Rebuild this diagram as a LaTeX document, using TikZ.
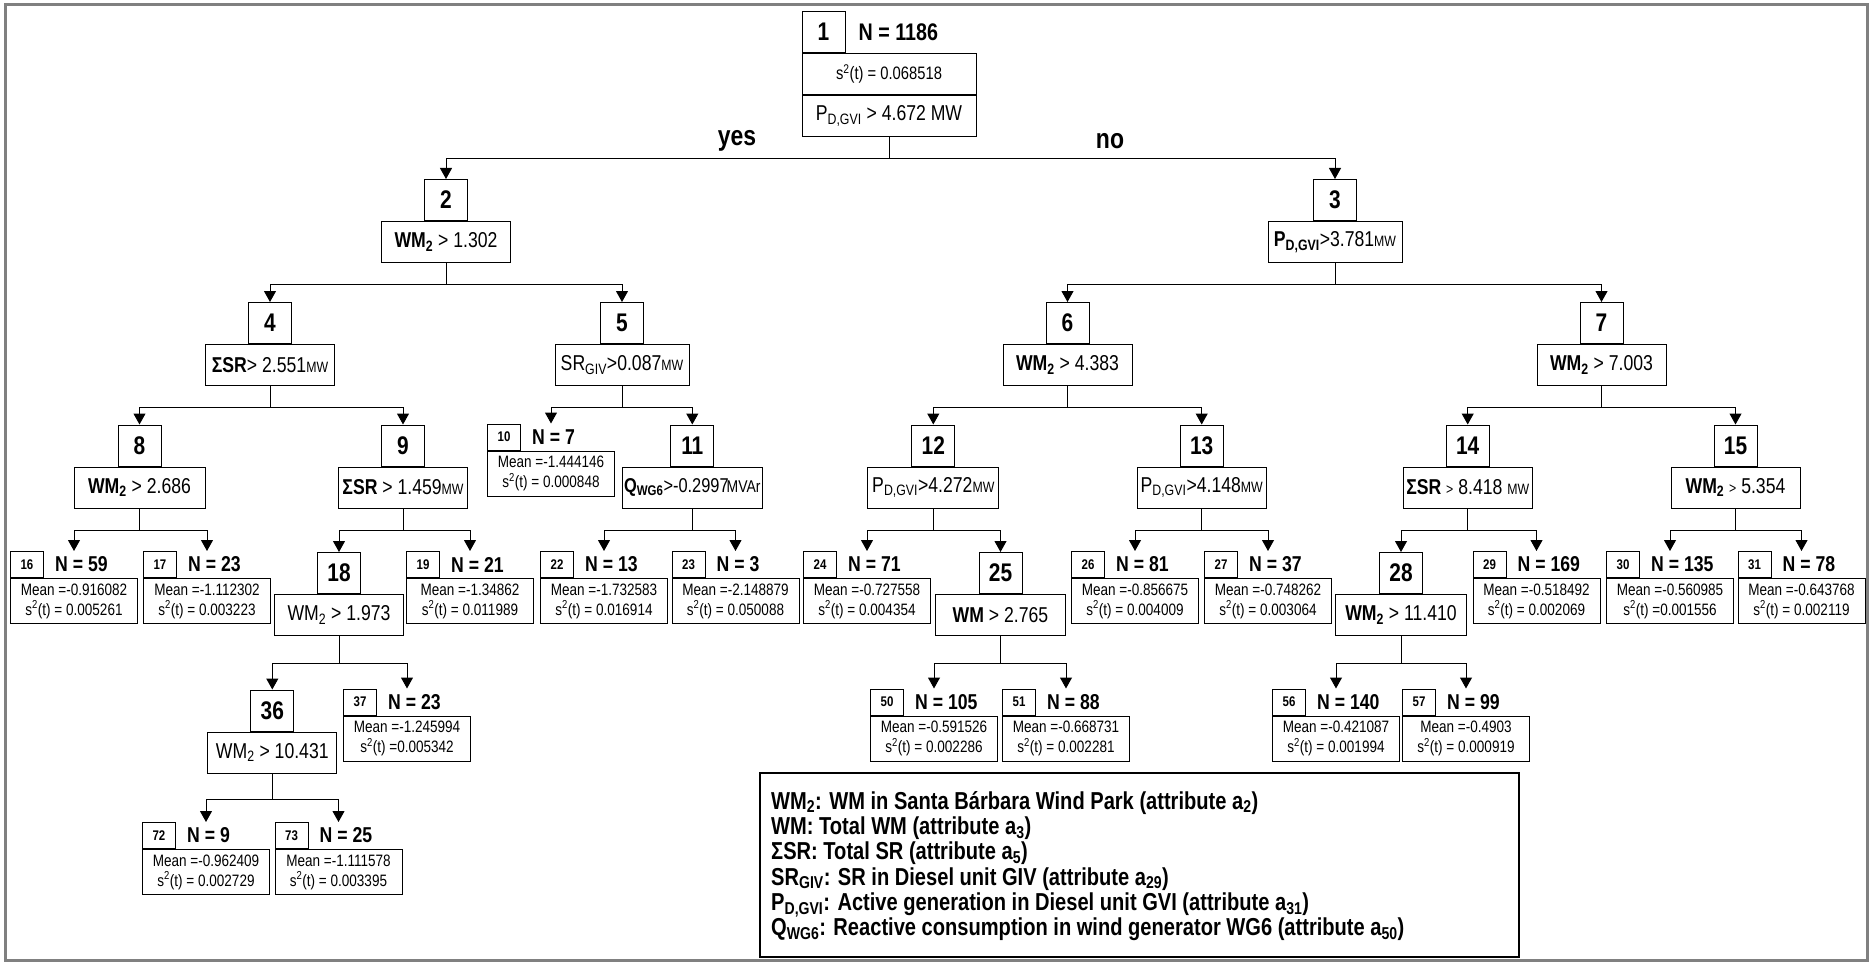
\documentclass[tikz,border=0pt]{standalone}
\usepackage{fontspec}
\setmainfont{Liberation Sans}[FakeStretch=0.82]
\usetikzlibrary{arrows.meta,positioning}
\definecolor{framegray}{HTML}{808080}
\definecolor{ink}      {HTML}{000000}
\tikzset{
  numbox/.style   ={draw=ink, line width=1pt, minimum width=43pt, minimum height=41pt,
                    inner sep=0pt, anchor=north, font=\fontsize{25.5}{27}\selectfont\bfseries},
  condbox/.style  ={draw=ink, line width=1pt, minimum width=129pt, minimum height=41pt,
                    inner sep=2pt, font=\fontsize{21.5}{23}\selectfont},
  leafnum/.style  ={draw=ink, line width=1pt, minimum width=33pt, minimum height=26pt,
                    inner sep=0pt, font=\fontsize{14}{15}\selectfont\bfseries},
  leafinfo/.style ={draw=ink, line width=1pt, minimum width=127pt, minimum height=45pt,
                    inner sep=0pt, anchor=north, align=center,
                    font=\fontsize{16.5}{20}\selectfont},
  leafcount/.style={inner sep=0pt, font=\fontsize{21.5}{23}\selectfont\bfseries},
  answer/.style   ={inner sep=0pt, font=\fontsize{28}{30}\selectfont\bfseries},
  legendbox/.style={draw=ink, line width=1.5pt, anchor=north west, inner sep=0pt},
  legendtext/.style={inner sep=0pt, anchor=west, align=left,
                    font=\fontsize{24.5}{25.3}\selectfont\bfseries},
  treearr/.style  ={-{Triangle[length=11pt,width=12pt]}, line width=1pt},
}
% split node: number box with the test underneath
\newcommand{\splitnode}[5][129pt]{%
  \node[numbox] (n#2) at (#3,#4) {#2};
  \node[condbox, minimum width=#1, below=0pt of n#2] (c#2) {#5};
  \coordinate (top#2) at (n#2.north);}
% terminal node: number, count and the mean / variance box
\newcommand{\leafnode}[6]{%
  \node[leafinfo] (i#1) at (#2,#3+26) {Mean =#5\\s\textsuperscript{2}(t) #6};
  \node[leafnum, above right=0pt of i#1.north west] (n#1) {#1};
  \node[leafcount, right=11pt of n#1] (t#1) {N = #4};
  \coordinate (top#1) at (i#1.north |- n#1.north);}
\newcommand{\smallunit}[1]{{\fontsize{15}{16}\selectfont #1}}
\newcommand{\WMtwo}{\textbf{WM}\textsubscript{\textbf{2}}}
\newcommand{\sumSR}{\textbf{ΣSR}}

\begin{document}
\begin{tikzpicture}[x=1pt,y=-1pt]
  \useasboundingbox (0,0) rectangle (1872,963);
  \draw[framegray, line width=3pt] (5,5) rectangle (1867,960);

  % root
  \node[numbox] (n1) at (823.5,11) {1};
  \node[leafcount, font=\fontsize{24}{26}\selectfont\bfseries, right=13pt of n1] (t1) {N = 1186};
  \node[condbox, minimum width=174pt, anchor=north west, font=\fontsize{18}{20}\selectfont]
    (s1) at (n1.south west) {s\textsuperscript{2}(t) = 0.068518};
  \node[condbox, minimum width=174pt, below=0pt of s1] (c1) {P\textsubscript{D,GVI} > 4.672 MW};
  \node[answer] (yes) at (737,141) {yes};
  \node[answer] (no) at (1110,141) {no};

  % split nodes
  \splitnode{2}{446}{179}{\WMtwo{} > 1.302}
  \splitnode[134pt]{3}{1335}{179}{\textbf{P}\textsubscript{\textbf{D,GVI}}>3.781\smallunit{MW}}
  \splitnode{4}{270}{302}{\sumSR> 2.551\smallunit{MW}}
  \splitnode[134pt]{5}{622}{302}{SR\textsubscript{GIV}>0.087\smallunit{MW}}
  \splitnode{6}{1067.5}{302}{\WMtwo{} > 4.383}
  \splitnode{7}{1601.5}{302}{\WMtwo{} > 7.003}
  \splitnode[131pt]{8}{139.5}{424.5}{\WMtwo{} > 2.686}
  \splitnode{9}{403}{424.5}{\sumSR{} > 1.459\smallunit{MW}}
  \splitnode[134pt]{11}{692.3}{424.5}{{\fontsize{20}{22}\selectfont
    \textbf{Q}\textsubscript{\textbf{WG6}}>-0.2997\kern-2pt{\fontsize{17}{18}\selectfont MVAr}}}
  \splitnode[131pt]{12}{933.3}{424.5}{P\textsubscript{D,GVI}>4.272\smallunit{MW}}
  \splitnode{13}{1201.7}{424.5}{P\textsubscript{D,GVI}>4.148\smallunit{MW}}
  \splitnode{14}{1467.7}{424.5}{\sumSR{} \smallunit{>} 8.418 \smallunit{MW}}
  \splitnode{15}{1735.5}{424.5}{\WMtwo{} \smallunit{>} 5.354}
  \splitnode{18}{339}{552}{WM\textsubscript{2} > 1.973}
  \splitnode[130pt]{25}{1000.5}{552}{\textbf{WM} > 2.765}
  \splitnode[131pt]{28}{1401}{552}{\WMtwo{} > 11.410}
  \splitnode{36}{272.3}{689.5}{WM\textsubscript{2} > 10.431}

  % terminal nodes
  \leafnode{10}{551}{424.5}{7}{-1.444146}{= 0.000848}
  \leafnode{16}{74}{552}{59}{-0.916082}{= 0.005261}
  \leafnode{17}{207}{552}{23}{-1.112302}{= 0.003223}
  \leafnode{19}{470}{552}{21}{-1.34862}{= 0.011989}
  \leafnode{22}{604}{552}{13}{-1.732583}{= 0.016914}
  \leafnode{23}{735.5}{552}{3}{-2.148879}{= 0.050088}
  \leafnode{24}{867}{552}{71}{-0.727558}{= 0.004354}
  \leafnode{26}{1135}{552}{81}{-0.856675}{= 0.004009}
  \leafnode{27}{1268}{552}{37}{-0.748262}{= 0.003064}
  \leafnode{29}{1536.5}{552}{169}{-0.518492}{= 0.002069}
  \leafnode{30}{1670}{552}{135}{-0.560985}{=0.001556}
  \leafnode{31}{1801.5}{552}{78}{-0.643768}{= 0.002119}
  \leafnode{37}{407}{689.5}{23}{-1.245994}{=0.005342}
  \leafnode{50}{934}{689.5}{105}{-0.591526}{= 0.002286}
  \leafnode{51}{1066}{689.5}{88}{-0.668731}{= 0.002281}
  \leafnode{56}{1336}{689.5}{140}{-0.421087}{= 0.001994}
  \leafnode{57}{1466}{689.5}{99}{-0.4903}{= 0.000919}
  \leafnode{72}{206}{823}{9}{-0.962409}{= 0.002729}
  \leafnode{73}{338.5}{823}{25}{-1.111578}{= 0.003395}

  % branches: parent / drop to the bar / left child / right child
  \foreach \p/\d/\a/\b in {1/22/2/3, 2/21/4/5, 3/21/6/7, 4/21/8/9, 5/21/10/11,
      6/21/12/13, 7/21/14/15, 8/22/16/17, 9/22/18/19, 11/22/22/23, 12/22/24/25,
      13/22/26/27, 14/22/28/29, 15/22/30/31, 18/27/36/37, 25/27/50/51,
      28/27/56/57, 36/26/72/73}{
    \draw[treearr] (c\p.south) -- ++(0,\d) -| (top\a);
    \draw[treearr] (c\p.south) -- ++(0,\d) -| (top\b);
  }

  % attribute key
  \node[legendbox, minimum width=759pt, minimum height=184pt] (legend) at (759,772) {};
  \node[legendtext] (legtxt) at (771,866) {%
    WM\textsubscript{2}: WM in Santa Bárbara Wind Park (attribute a\textsubscript{2})\\
    WM: Total WM (attribute a\textsubscript{3})\\
    ΣSR: Total SR (attribute a\textsubscript{5})\\
    SR\textsubscript{GIV}: SR in Diesel unit GIV (attribute a\textsubscript{29})\\
    P\textsubscript{D,GVI}: Active generation in Diesel unit GVI (attribute a\textsubscript{31})\\
    Q\textsubscript{WG6}: Reactive consumption in wind generator WG6 (attribute a\textsubscript{50})};
\end{tikzpicture}
\end{document}
